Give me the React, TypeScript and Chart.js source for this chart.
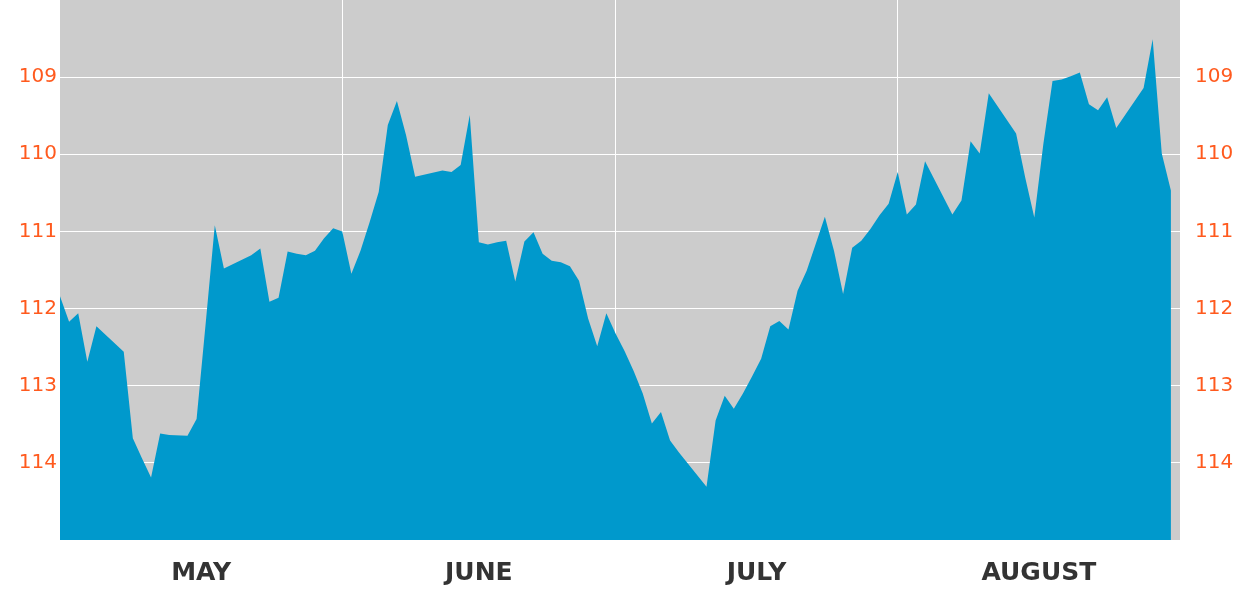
import React, { useEffect, useRef } from "react";
import { Chart, registerables } from "chart.js";

Chart.register(...registerables);

// Day index counted from May 1 (0) to Sep 1 (123)
const days: number[] = [
  0, 1, 2, 3, 4, 7, 8, 9, 10, 11, 12, 14, 15, 16, 17, 18, 21, 22, 23, 24, 25, 26, 27, 28, 29, 30,
  31, 32, 33, 34, 35, 36, 37, 38, 39, 42, 43, 44, 45, 46, 47, 48, 49, 50, 51, 52, 53, 54, 55, 56,
  57, 58, 59, 60, 61, 62, 63, 64, 65, 66, 67, 68, 71, 72, 73, 74, 75, 76, 77, 78, 79, 80, 81, 82,
  83, 84, 85, 86, 87, 88, 89, 90, 91, 92, 93, 94, 95, 98, 99, 100, 101, 102, 105, 106, 107, 108,
  109, 110, 111, 112, 113, 114, 115, 116, 119, 120, 121, 122,
];

const values: number[] = [
  111.84, 112.17, 112.06, 112.69, 112.23, 112.56, 113.68, 113.94, 114.19, 113.62, 113.64, 113.65,
  113.43, 112.19, 110.92, 111.48, 111.31, 111.22, 111.91, 111.86, 111.26, 111.29, 111.31, 111.25,
  111.09, 110.96, 111.0, 111.55, 111.25, 110.88, 110.49, 109.62, 109.31, 109.75, 110.29, 110.21,
  110.23, 110.14, 109.49, 111.14, 111.17, 111.14, 111.12, 111.65, 111.13, 111.01, 111.29, 111.38,
  111.4, 111.45, 111.64, 112.13, 112.49, 112.06, 112.32, 112.55, 112.81, 113.1, 113.49, 113.34,
  113.71, 113.87, 114.31, 113.45, 113.13, 113.3, 113.1, 112.88, 112.65, 112.23, 112.16, 112.27,
  111.77, 111.51, 111.16, 110.81, 111.25, 111.81, 111.21, 111.12, 110.97, 110.79, 110.64, 110.23,
  110.78, 110.65, 110.09, 110.78, 110.6, 109.83, 109.99, 109.21, 109.73, 110.3, 110.82, 109.86,
  109.05, 109.03, 108.99, 108.94, 109.35, 109.43, 109.26, 109.66, 109.14, 108.51, 109.99, 110.47,
];

const monthLabels: string[] = ["MAY", "JUNE", "JULY", "AUGUST"];
const monthStarts: number[] = [0, 31, 61, 92, 123];
const yTicks: number[] = [109, 110, 111, 112, 113, 114];
const yMin = 108;
const yMax = 115;

const ORANGE = "#ff5a1e";
const BLUE = "#0099cc";
const GRAY = "#cccccc";

const bgPlugin = {
  id: "plotBg",
  beforeDraw(chart: any) {
    const { ctx, chartArea } = chart;
    if (!chartArea) return;
    ctx.save();
    ctx.fillStyle = GRAY;
    ctx.fillRect(chartArea.left, chartArea.top, chartArea.right - chartArea.left, chartArea.bottom - chartArea.top);
    ctx.restore();
  },
};

const zeroPad = (scale: any) => {
  scale.paddingTop = 0;
  scale.paddingBottom = 0;
  scale.paddingLeft = 0;
  scale.paddingRight = 0;
};

export default function App() {
  const ref = useRef<HTMLCanvasElement | null>(null);

  useEffect(() => {
    if (!ref.current) return;
    const data = days.map((d, i) => ({ x: d, y: values[i] }));
    const mids = monthStarts.slice(0, -1).map((s, i) => (s + monthStarts[i + 1]) / 2);
    const yAxisBase = (position: "left" | "right", padding: number, showGrid: boolean) => ({
      type: "linear" as const,
      position,
      min: yMin,
      max: yMax,
      reverse: true,
      z: 1,
      border: { display: false },
      grid: { display: showGrid, color: "#ffffff", lineWidth: 1, drawTicks: false },
      ticks: {
        color: ORANGE,
        padding,
        font: { family: "'DejaVu Sans', sans-serif", size: 20 },
      },
      afterBuildTicks: (scale: any) => {
        scale.ticks = yTicks.map((v) => ({ value: v }));
      },
      afterFit: (scale: any) => {
        scale.width = 60;
        zeroPad(scale);
      },
    });

    const chart = new Chart(ref.current, {
      type: "line",
      data: {
        datasets: [
          {
            data,
            xAxisID: "x",
            yAxisID: "y",
            borderWidth: 0,
            borderColor: BLUE,
            backgroundColor: BLUE,
            pointRadius: 0,
            tension: 0,
            fill: { value: yMax },
          },
        ],
      },
      options: {
        animation: false,
        responsive: false,
        events: [],
        layout: { padding: 0 },
        plugins: { legend: { display: false }, tooltip: { enabled: false } },
        scales: {
          x: {
            type: "linear",
            position: "bottom",
            min: monthStarts[0],
            max: monthStarts[monthStarts.length - 1],
            z: 1,
            border: { display: false },
            grid: { color: "#ffffff", lineWidth: 1, drawTicks: false },
            ticks: { display: false },
            afterBuildTicks: (scale: any) => {
              scale.ticks = monthStarts.slice(1, -1).map((v) => ({ value: v }));
            },
            afterFit: (scale: any) => {
              scale.height = 0;
              zeroPad(scale);
            },
          },
          xl: {
            type: "linear",
            position: "bottom",
            min: monthStarts[0],
            max: monthStarts[monthStarts.length - 1],
            border: { display: false },
            grid: { display: false, drawTicks: false },
            ticks: {
              color: "#333333",
              padding: 18,
              maxRotation: 0,
              autoSkip: false,
              font: { family: "'DejaVu Sans', sans-serif", size: 25, weight: "bold" },
              callback: (_v: any, i: number) => monthLabels[i],
            },
            afterBuildTicks: (scale: any) => {
              scale.ticks = mids.map((v) => ({ value: v }));
            },
            afterFit: (scale: any) => {
              scale.height = 60;
              zeroPad(scale);
            },
          },
          y: yAxisBase("left", 3, true) as any,
          y2: yAxisBase("right", 15, false) as any,
        },
      },
      plugins: [bgPlugin],
    });
    return () => chart.destroy();
  }, []);

  return (
    <div style={{ position: "absolute", left: 0, top: 0, width: 1240, height: 600, background: "#ffffff" }}>
      <canvas ref={ref} width={1240} height={600} style={{ display: "block" }} />
    </div>
  );
}
